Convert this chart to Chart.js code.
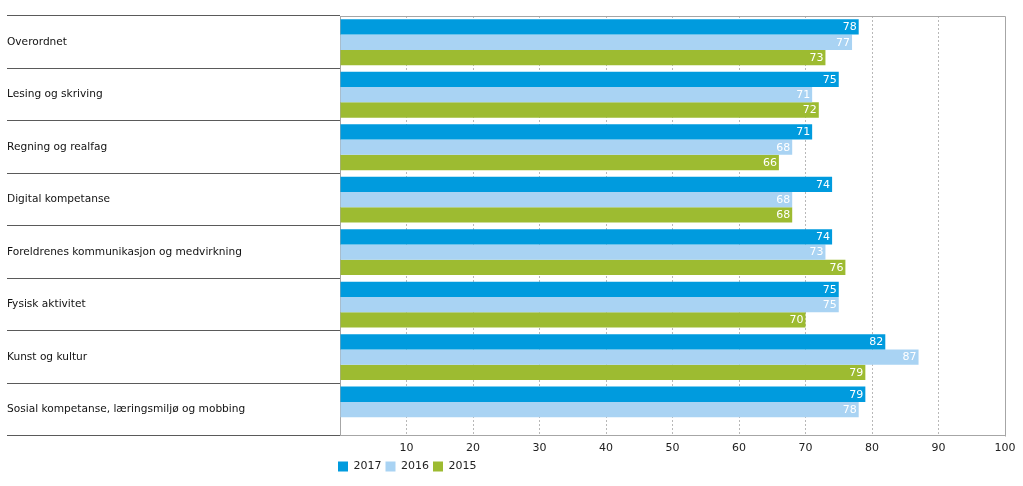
<!DOCTYPE html>
<html>
<head>
<meta charset="utf-8">
<script src="https://cdn.jsdelivr.net/npm/chart.js@4"></script>
<style>
html,body{margin:0;padding:0;background:#fff;}
#wrap{position:relative;width:1023px;height:486px;}
</style>
</head>
<body>
<div id="wrap"><canvas id="c" width="1023" height="486"></canvas></div>
<script>
const categories = [
  "Overordnet",
  "Lesing og skriving",
  "Regning og realfag",
  "Digital kompetanse",
  "Foreldrenes kommunikasjon og medvirkning",
  "Fysisk aktivitet",
  "Kunst og kultur",
  "Sosial kompetanse, læringsmiljø og mobbing"
];
const seriesNames = ["2017", "2016", "2015"];
const values2017 = [78, 75, 71, 74, 74, 75, 82, 79];
const values2016 = [77, 71, 68, 68, 73, 75, 87, 78];
const values2015 = [73, 72, 66, 68, 76, 70, 79, null];
const xTicks = [10, 20, 30, 40, 50, 60, 70, 80, 90, 100];

const colors = ["#009bde", "#a9d3f3", "#9dbb31"];
const FONT = "'DejaVu Sans', Verdana, sans-serif";

const valueLabels = {
  id: 'valueLabels',
  afterDatasetsDraw(chart) {
    const ctx = chart.ctx;
    ctx.save();
    ctx.font = "11px " + FONT;
    ctx.fillStyle = "#ffffff";
    ctx.textAlign = "right";
    ctx.textBaseline = "middle";
    chart.data.datasets.forEach((ds, di) => {
      const meta = chart.getDatasetMeta(di);
      meta.data.forEach((bar, i) => {
        const v = ds.data[i];
        if (v === null || v === undefined) return;
        ctx.fillText(String(v), bar.x - 2, bar.y + 0.5);
      });
    });
    ctx.restore();
  }
};

const plotBox = {
  id: 'plotBox',
  afterLayout(chart) {
    if (chart.legend) { chart.legend.left -= 6; chart.legend.right -= 6; chart.legend.top -= 4; chart.legend.bottom -= 4; }
  },
  afterDraw(chart) {
    const a = chart.chartArea;
    const ctx = chart.ctx;
    ctx.save();
    ctx.strokeStyle = "#a6a6a6";
    ctx.lineWidth = 1;
    ctx.beginPath();
    ctx.moveTo(a.left, a.top + 0.5);
    ctx.lineTo(Math.round(a.right) + 0.5, a.top + 0.5);
    ctx.lineTo(Math.round(a.right) + 0.5, Math.round(a.bottom) + 0.5);
    ctx.stroke();
    ctx.restore();
  }
};

new Chart(document.getElementById('c'), {
  type: 'bar',
  data: {
    labels: categories,
    datasets: [
      { label: seriesNames[0], data: values2017, backgroundColor: colors[0] },
      { label: seriesNames[1], data: values2016, backgroundColor: colors[1] },
      { label: seriesNames[2], data: values2015, backgroundColor: colors[2] }
    ]
  },
  options: {
    indexAxis: 'y',
    responsive: false,
    animation: false,
    devicePixelRatio: 1,
    categoryPercentage: 0.875,
    barPercentage: 1.0,
    layout: { padding: { left: 7, right: 18, top: 16, bottom: 0 } },
    scales: {
      x: {
        min: 0, max: 100,
        afterBuildTicks(scale) { scale.ticks = [0].concat(xTicks).map(v => ({ value: v })); },
        ticks: {
          color: "#222",
          font: { family: FONT, size: 11 },
          padding: 6,
          callback: (v) => v === 0 ? "" : String(v)
        },
        grid: {
          drawTicks: false,
          color: (c) => (c.tick && (c.tick.value === 0 || c.tick.value === 100)) ? "rgba(0,0,0,0)" : "#b8b8b8"
        },
        border: { display: true, color: "#a6a6a6", dash: [2, 2] }
      },
      y: {
        afterFit(scale) { scale.width = 333; },
        ticks: {
          color: "#111",
          crossAlign: 'far',
          font: { family: FONT, size: 10.6 },
          padding: 0
        },
        grid: {
          offset: true,
          drawOnChartArea: false,
          drawTicks: true,
          tickLength: 333,
          color: "#5a5a5a",
          lineWidth: 1
        },
        border: { display: true, color: "#a6a6a6" }
      }
    },
    plugins: {
      legend: {
        position: 'bottom',
        align: 'start',
        fullSize: false,
        labels: {
          boxWidth: 10,
          boxHeight: 10,
          padding: 4,
          color: "#222",
          font: { family: FONT, size: 11 }
        }
      },
      tooltip: { enabled: false }
    }
  },
  plugins: [valueLabels, plotBox]
});
</script>
</body>
</html>
